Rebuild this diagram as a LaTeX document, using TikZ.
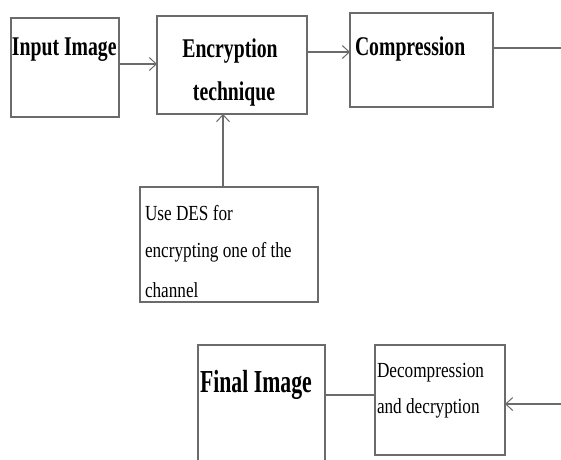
\documentclass[tikz,border=0pt]{standalone}
\usepackage{fontspec}
\setmainfont[FakeStretch=0.8]{Liberation Serif}
\newfontfamily\hdfont[FakeStretch=0.73]{Liberation Serif Bold}
\newfontfamily\finfont[FakeStretch=0.68]{Liberation Serif Bold}
\usetikzlibrary{arrows.meta}
\definecolor{ln}{gray}{0.42}
\tikzset{
  x=1pt,y=1pt,
  box/.style={draw=ln,line width=1.3pt,inner sep=0pt,outer sep=0pt},
  txt/.style={inner sep=0pt,outer sep=0pt,anchor=base west,font=\hdfont\fontsize{27}{30}\selectfont},
  small/.style={inner sep=0pt,outer sep=0pt,anchor=base west,font=\fontsize{21.5}{24}\selectfont},
  conn/.style={draw=ln,line width=1.3pt},
  arr/.style={conn,-{Straight Barb[length=7pt,width=13pt,line width=1pt]}}
}
\begin{document}
\begin{tikzpicture}
\useasboundingbox (0,0) rectangle (561,-459);
\fill[white] (0,0) rectangle (561,-459);
% boxes
\node[box,minimum width=108pt,minimum height=99pt] (in) at (65,-67.5) {};
\node[box,minimum width=150pt,minimum height=98pt] (enc) at (232,-65) {};
\node[box,minimum width=143pt,minimum height=94pt] (comp) at (421.5,-60) {};
\node[box,minimum width=178pt,minimum height=115pt] (des) at (229,-244.5) {};
\node[box,minimum width=127pt,minimum height=120pt] (fin) at (261.5,-405) {};
\node[box,minimum width=130pt,minimum height=110pt] (dec) at (440,-400) {};
% texts
\node[txt] (tin) at (12,-55) {Input Image};
\node[txt,anchor=base] (tenc1) at (230,-57) {Encryption};
\node[txt,anchor=base] (tenc2) at (234,-100) {technique};
\node[txt] (tcomp) at (355,-55) {Compression};
\node[small] (tdes1) at (145,-220) {Use DES for};
\node[small] (tdes2) at (145,-257) {encrypting one of the};
\node[small] (tdes3) at (145,-297) {channel};
\node[txt,font=\finfont\fontsize{32}{34}\selectfont] (tfin) at (200,-392) {Final Image};
\node[small] (tdec1) at (377,-377) {Decompression};
\node[small] (tdec2) at (377,-413) {and decryption};
% connectors
\coordinate (r1) at (561,-48);
\coordinate (r2) at (561,-404);
\draw[arr] (in.east |- 0,-64) -- (enc.west |- 0,-64);
\draw[arr] (enc.east |- 0,-52) -- (comp.west |- 0,-52);
\draw[conn] (comp.east |- r1) -- (r1);
\draw[arr] (des.north -| 223,0) -- (enc.south -| 223,0);
\draw[conn] (fin.east |- 0,-395) -- (dec.west |- 0,-395);
\draw[arr] (r2) -- (dec.east |- r2);
\end{tikzpicture}
\end{document}
